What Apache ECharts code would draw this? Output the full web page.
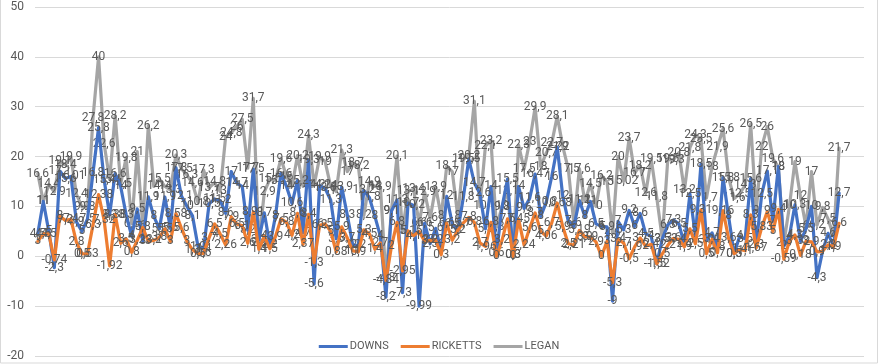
<!DOCTYPE html>
<html><head><meta charset="utf-8">
<style>html,body{margin:0;padding:0;background:#fff}#c{width:878px;height:364px}</style>
<script src="https://cdn.jsdelivr.net/npm/echarts@6/dist/echarts.min.js"></script>
</head><body><div id="c"></div>
<script>
const downs=[4.5,11,5,-2.3,17.1,15.6,16.01,6.9,5,7.5,16.8,25.8,15.4,8.3,16.6,14,8.3,4,9.5,3,11.9,8,5.5,11.9,5.6,17.8,12.1,10,8.1,1.9,1.4,10.5,11.5,11.2,8.6,17,14.7,14,5.2,17.5,3.3,8.7,2.2,8,16.6,14,10.6,15.2,4.7,19.3,-5.6,14.2,13.6,11.3,3.5,13.9,8.3,2.2,2.2,13.2,11.8,8,4,-8.2,9.1,11.3,-7.3,10.7,10.2,-9.99,6.6,2.5,5.6,1,12,6.5,5,11.8,19.5,14.7,12.6,5.5,14,0.6,9.8,15.5,0.3,14,9.6,11.6,16.47,8,10.8,16,21.9,12,7,6,11.2,8,11,6.5,6,5.9,-9,7,5.3,9.2,6,8.6,4.5,4,-1.5,3.5,6.3,7.3,6.5,2.4,12.5,4,18.5,3.2,4.7,1.8,15.8,8,0.5,4,3.5,15.6,2.3,12.5,17.1,7,18,2,4,10.3,3,5.5,10,-4.3,1,4.6,2,12.7];
const ricketts=[3,4.5,4.5,-0.74,8,7.2,7.4,2.8,0.5,0.53,6.3,12.38,7.32,-1.92,8.38,2.6,3.5,0.8,3.2,5.8,3,3.2,3.8,5.5,3,8.58,5.6,3,1.3,0.5,0.6,3.7,6.5,4.5,2.26,7.9,6.5,6.1,2.6,8.91,1.4,4,1.5,3.9,7.5,6.8,4.2,8.6,2.37,8.4,-1.3,6.2,6.5,5,0.88,5.9,3.7,1.1,0.9,5.3,4.5,1.4,2.7,-4.84,2,6.8,-2.95,5.1,4.1,5,3,3.2,3.2,0.3,6.6,3.2,5.2,6.7,7.8,6.8,2.7,1.96,6.8,0,3.2,7.5,0,7.45,2.24,5.6,8.7,5,4.06,6.7,10.68,5.9,2.5,2.21,5.19,3.9,3.9,2.9,0,3,-5.3,3.4,2.7,-0.5,1.9,3.7,2,2.4,-1.52,0.5,2.2,3.6,3.4,1.9,5.5,2.5,9.31,0.5,3.4,0.7,9.16,3.6,0.5,1.4,1.1,8.3,1.67,5.83,9,5,9.4,-0.59,3,4.3,0.18,3,2.9,0.9,1,2.3,1.9,6.6];
const legan=[16.6,11,14.4,12.9,19.1,18.4,19.9,12.4,9.9,9.8,27.8,40,22.6,15.4,28.2,14.5,19.8,6.5,21,6,26.2,14,15.5,14,13.3,20.3,17.5,16.3,14.6,10.8,17.3,13.7,14.8,13,24,24.8,26,27.5,17.7,31.7,2.6,12.9,15.5,15.2,19.6,16,14,20.2,14,24.3,14.2,19.9,19,14,13,21.3,17,18.7,18.2,8.2,14.9,14,13.9,-4.3,9.1,20.1,5,13.1,13.4,6.6,12.9,7.6,13.9,8,18.1,17,8,19.5,20.2,31.1,10,22.1,23.2,5.8,10,13.1,0.3,22.3,17.5,23,29.9,18,20.7,22.7,28.1,22,17.5,6.6,17.6,11,14.5,10,16.2,15,4.6,20,15.02,23.7,16.7,18.2,12.6,19.5,11.8,3.5,19.5,19.3,20.8,13.2,21.8,24.3,23.5,11.7,18,21.9,25.6,15.8,11.6,12.5,14.3,26.5,9,22,26,19.6,18,2.6,10,19,12,6,17,6.2,9.8,7.5,4,21.7];
const categories=Array.from({length:150},(_,i)=>String(i+1));
const FONT='Roboto', TXT='#595959';
const mk=(name,data,color,z)=>({name,type:'line',data,z,symbol:'circle',symbolSize:1,showSymbol:true,
  itemStyle:{color},lineStyle:{color,width:3.2,cap:'round',join:'round'},
  label:{show:true,position:'inside',color:TXT,fontFamily:FONT,fontSize:12,textBorderWidth:0,
    formatter:p=>String(p.value).replace('.',',')},
  emphasis:{disabled:true}});
const chart=echarts.init(document.getElementById('c'),null,{renderer:'canvas'});
chart.setOption({
  animation:false,backgroundColor:'#fff',
  grid:{left:35,right:14,top:7,bottom:8,containLabel:false},
  legend:{show:true,top:336,left:'center',icon:'rect',itemWidth:29,itemHeight:3,itemGap:12,
    textStyle:{color:TXT,fontFamily:FONT,fontSize:11,padding:[0,0,0,-3]},data:['DOWNS','RICKETTS','LEGAN']},
  xAxis:{type:'category',data:categories,boundaryGap:true,axisLine:{show:false},axisTick:{show:false},axisLabel:{show:false},splitLine:{show:false}},
  yAxis:{type:'value',min:-20,max:50,interval:10,axisLine:{show:false},axisTick:{show:false},
    axisLabel:{color:TXT,fontFamily:FONT,fontSize:12,margin:11},splitLine:{show:true,lineStyle:{color:'#D9D9D9',width:1}}},
  graphic:[{type:'rect',silent:true,shape:{x:0.5,y:-3,width:877,height:366},style:{fill:'none',stroke:'#D9D9D9',lineWidth:1}}],
  series:[mk('DOWNS',downs,'#4472C4',4),mk('RICKETTS',ricketts,'#ED7D31',5),mk('LEGAN',legan,'#A5A5A5',3)]
});
</script></body></html>
